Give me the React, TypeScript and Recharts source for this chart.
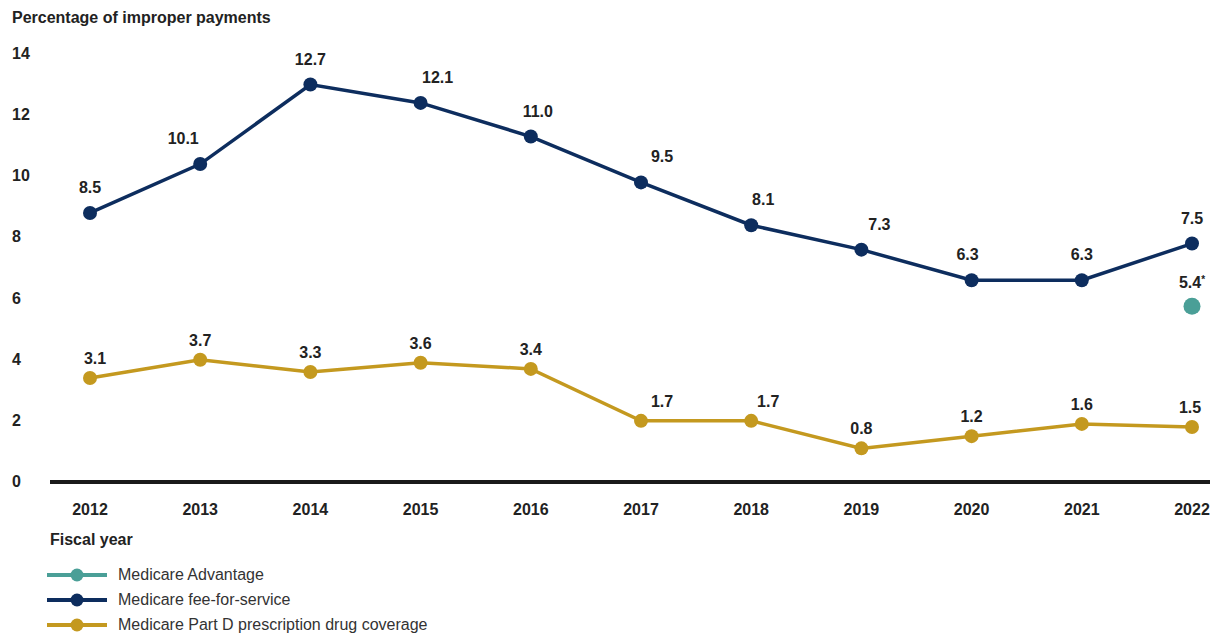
import React from 'react';
import { LineChart, Line, XAxis, YAxis, LabelList } from 'recharts';

const years = ['2012','2013','2014','2015','2016','2017','2018','2019','2020','2021','2022'];
// plotted positions
const feeForService = [8.8, 10.4, 13.0, 12.4, 11.3, 9.8, 8.4, 7.6, 6.6, 6.6, 7.8];
const partD = [3.4, 4.0, 3.6, 3.9, 3.7, 2.0, 2.0, 1.1, 1.5, 1.9, 1.8];
const advantage: (number | null)[] = [null, null, null, null, null, null, null, null, null, null, 5.75];
// printed labels
const ffsLabels = ['8.5','10.1','12.7','12.1','11.0','9.5','8.1','7.3','6.3','6.3','7.5'];
const partDLabels = ['3.1','3.7','3.3','3.6','3.4','1.7','1.7','0.8','1.2','1.6','1.5'];
const maLabels = ['','','','','','','','','','','5.4'];
const yTicks = [0, 2, 4, 6, 8, 10, 12, 14];

const ffsDx = [0, -17, 0, 17, 7, 21, 12, 18, -4, 0, 0];
const pdDx = [5, 0, 0, 0, 0, 21, 17, 0, 0, 0, -2];

const data = years.map((y, i) => ({
  year: y,
  ffs: feeForService[i],
  pd: partD[i],
  ma: advantage[i],
  ffsL: ffsLabels[i],
  pdL: partDLabels[i],
  maL: maLabels[i],
}));

const NAVY = '#0d2d5e';
const GOLD = '#c4991f';
const TEAL = '#4a9f97';
const FONT = 'Liberation Sans, Arial, sans-serif';
const FS = 16;

const makeLabel = (dxArr: number[], dy: number, sup?: string) => (props: any) => {
  const { x, y, value, index } = props;
  if (!value) return null;
  return (
    <text x={x + (dxArr[index] || 0)} y={y + dy} textAnchor="middle" fontFamily={FONT} fontSize={FS} fontWeight={700} fill="#222">
      {value}
      {sup ? <tspan fontSize={10} dy={-5}>{sup}</tspan> : null}
    </text>
  );
};

const YTick = (props: any) => {
  const { y, payload } = props;
  return (
    <text x={12} y={y + 5} textAnchor="start" fontFamily={FONT} fontSize={FS} fontWeight={700} fill="#222">
      {payload.value}
    </text>
  );
};

const XTick = (props: any) => {
  const { x, y, payload } = props;
  return (
    <text x={x} y={y + 25} textAnchor="middle" fontFamily={FONT} fontSize={FS} fontWeight={700} fill="#222">
      {payload.value}
    </text>
  );
};

const legendItems = [
  { name: 'Medicare Advantage', color: TEAL },
  { name: 'Medicare fee-for-service', color: NAVY },
  { name: 'Medicare Part D prescription drug coverage', color: GOLD },
];

export default function App() {
  return (
    <div style={{ position: 'absolute', left: 0, top: 0, width: 1216, height: 635, background: '#fff' }}>
      <div style={{ position: 'absolute', left: 12, top: 9, fontFamily: FONT, fontSize: FS, fontWeight: 700, color: '#222' }}>
        Percentage of improper payments
      </div>
      <LineChart width={1216} height={635} data={data} margin={{ top: 54, right: 6, bottom: 123, left: 0 }}>
        <XAxis
          dataKey="year"
          padding={{ left: 40, right: 18 }}
          axisLine={{ stroke: '#1a1a1a', strokeWidth: 4 }}
          tickLine={false}
          tick={<XTick />}
          interval={0}
        />
        <YAxis
          width={50}
          domain={[0, 14]}
          ticks={yTicks}
          axisLine={false}
          tickLine={false}
          tick={<YTick />}
          interval={0}
        />
        <Line
          dataKey="ffs"
          stroke={NAVY}
          strokeWidth={3.5}
          dot={{ r: 7, fill: NAVY, stroke: NAVY, strokeWidth: 0 }}
          activeDot={false}
          isAnimationActive={false}
          name="Medicare fee-for-service"
        >
          <LabelList dataKey="ffsL" content={makeLabel(ffsDx, -20)} />
        </Line>
        <Line
          dataKey="pd"
          stroke={GOLD}
          strokeWidth={3.5}
          dot={{ r: 7, fill: GOLD, stroke: GOLD, strokeWidth: 0 }}
          activeDot={false}
          isAnimationActive={false}
          name="Medicare Part D prescription drug coverage"
        >
          <LabelList dataKey="pdL" content={makeLabel(pdDx, -14)} />
        </Line>
        <Line
          dataKey="ma"
          stroke={TEAL}
          strokeWidth={3.5}
          dot={{ r: 8.5, fill: TEAL, stroke: TEAL, strokeWidth: 0 }}
          activeDot={false}
          isAnimationActive={false}
          connectNulls={false}
          name="Medicare Advantage"
        >
          <LabelList dataKey="maL" content={makeLabel([0,0,0,0,0,0,0,0,0,0,0], -18, '*')} />
        </Line>
      </LineChart>
      <div style={{ position: 'absolute', left: 50, top: 531, fontFamily: FONT, fontWeight: 700, fontSize: FS, color: '#222' }}>
        Fiscal year
      </div>
      <div style={{ position: 'absolute', left: 45, top: 562, fontFamily: FONT }}>
        {legendItems.map((it) => (
          <div key={it.name} style={{ display: 'flex', alignItems: 'center', height: 25 }}>
            <svg width={64} height={16} style={{ marginRight: 9 }}>
              <line x1={2} y1={8} x2={62} y2={8} stroke={it.color} strokeWidth={4} />
              <circle cx={32} cy={8} r={6.5} fill={it.color} />
            </svg>
            <span style={{ fontSize: FS, color: '#333' }}>{it.name}</span>
          </div>
        ))}
      </div>
    </div>
  );
}
